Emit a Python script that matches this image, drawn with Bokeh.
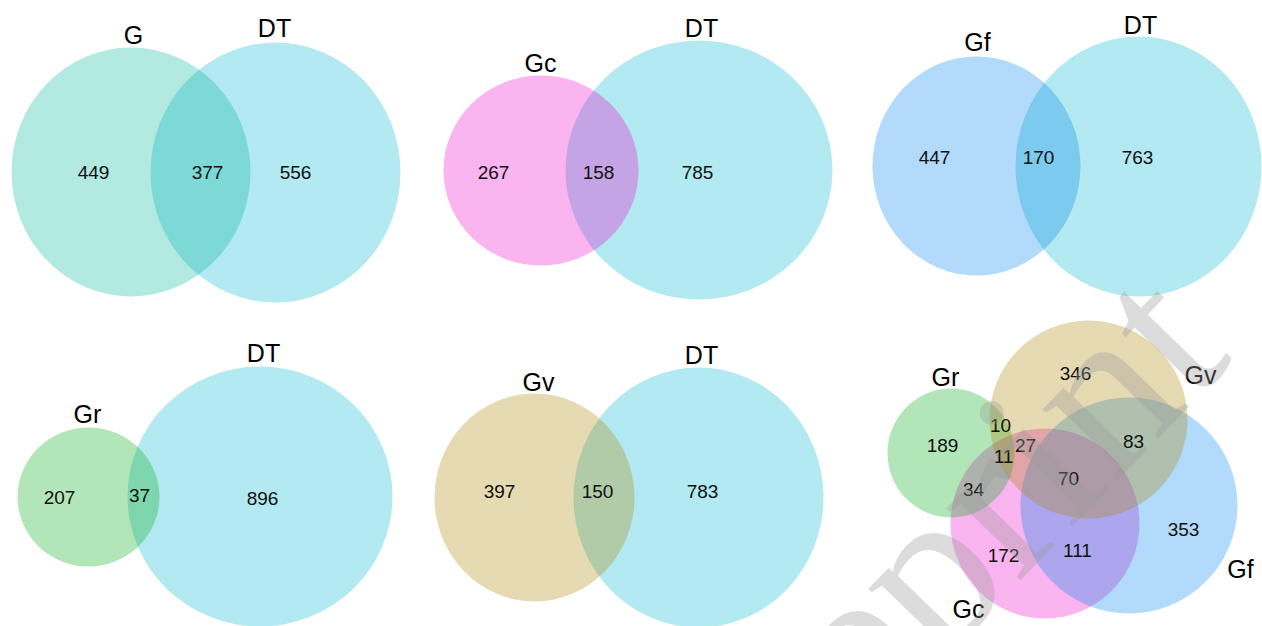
from bokeh.plotting import figure
from bokeh.models import Range1d
from bokeh.core.properties import value
from bokeh.embed import file_html
from bokeh.resources import INLINE

# ---------------- data (counts) ----------------
pair_names = ["G", "Gc", "Gf", "Gr", "Gv"]
pair_only = [449, 267, 447, 207, 397]        # only in the G-set
pair_shared = [377, 158, 170, 37, 150]       # shared with DT
dt_only = [556, 785, 763, 896, 783]          # only in DT

four_names = ["Gr", "Gv", "Gf", "Gc"]
four_regions = ["Gr", "Gv", "Gf", "Gc", "Gr&Gv", "Gr&Gv&Gc", "Gv&Gc",
                "Gr&Gc", "Gv&Gf", "Gv&Gf&Gc", "Gf&Gc"]
four_counts = [189, 346, 353, 172, 10, 11, 27, 34, 83, 70, 111]

# ---------------- colours ----------------
base_colors = {"DT": "#02b6cd", "G": "#00b69b", "Gc": "#ee05cd",
               "Gf": "#0084ee", "Gr": "#00ac16", "Gv": "#ac8400"}
ALPHA = 0.3

# ---------------- layout (pixel positions on the page) ----------------
pair_set_geom = [(130.5, 171.5, 239, 249), (540.5, 170, 195, 190),
                 (976, 165.5, 208, 219), (88, 496.5, 142, 139),
                 (534, 497, 200, 208)]
pair_dt_geom = [(275, 172, 250, 260), (698.5, 169.5, 267, 259),
                (1138, 166, 246, 260), (259.5, 496, 265, 260),
                (698, 497, 250, 260)]
pair_label_pos = [(133, 34), (540, 62), (977, 41), (87, 413), (538, 381)]
dt_label_pos = [(274, 27), (701, 27), (1140, 24), (263, 352), (701, 354)]
pair_num_pos = [[(93, 172), (207, 172), (295, 172)],
                [(493, 172), (598, 172), (697, 172)],
                [(934, 157), (1038, 157), (1137, 157)],
                [(59, 497), (139, 495), (262, 498)],
                [(499, 491), (597, 491), (702, 491)]]

four_order = ["Gc", "Gf", "Gr", "Gv"]
four_geom = {"Gr": (950.5, 452.5, 127, 129), "Gv": (1088, 419, 198, 198),
             "Gf": (1128.5, 505, 217, 216), "Gc": (1044.5, 523, 189, 190)}
four_label_pos = {"Gr": (945, 376), "Gv": (1200, 374),
                  "Gf": (1240, 568), "Gc": (968, 608)}
four_num_pos = [(942, 445), (1075, 373), (1183, 529), (1003, 555),
                (1000, 425), (1003, 456), (1025, 445), (973, 489),
                (1133, 441), (1068, 478), (1077, 550)]

W, H = 1262, 626
p = figure(width=W, height=H, output_backend="svg", toolbar_location=None,
           x_range=Range1d(0, W), y_range=Range1d(H, 0),
           min_border=0)
p.axis.visible = False
p.grid.visible = False
p.outline_line_color = None
p.background_fill_color = "white"
p.border_fill_color = "white"

FONT = value("Liberation Sans")

def ell(cx, cy, w, h, color):
    p.ellipse(x=[cx], y=[cy], width=[w], height=[h],
              width_units="screen", height_units="screen",
              fill_color=color, fill_alpha=ALPHA, line_color=None)

for i, name in enumerate(pair_names):
    ell(*pair_dt_geom[i], base_colors["DT"])
    ell(*pair_set_geom[i], base_colors[name])

for name in four_order:
    ell(*four_geom[name], base_colors[name])

nx, ny, nt = [], [], []
for i in range(len(pair_names)):
    vals = [pair_only[i], pair_shared[i], dt_only[i]]
    for (x, y), v in zip(pair_num_pos[i], vals):
        nx.append(x); ny.append(y); nt.append(str(v))
for (x, y), v in zip(four_num_pos, four_counts):
    nx.append(x); ny.append(y); nt.append(str(v))
p.text(x=nx, y=ny, text=nt, text_font=FONT, text_font_size="19px",
       text_align="center", text_baseline="middle", text_color="#111111")

lx, ly, lt = [], [], []
for i, name in enumerate(pair_names):
    lx += [pair_label_pos[i][0], dt_label_pos[i][0]]
    ly += [pair_label_pos[i][1], dt_label_pos[i][1]]
    lt += [name, "DT"]
for name in four_names:
    lx.append(four_label_pos[name][0]); ly.append(four_label_pos[name][1])
    lt.append(name)
p.text(x=lx, y=ly, text=lt, text_font=FONT, text_font_size="25px",
       text_align="center", text_baseline="middle", text_color="#000000")

# watermark
p.text(x=[1180], y=[306], text=["preprint"], angle=0.80,
       text_font=value("Liberation Serif"), text_font_size="225px",
       text_align="right", text_baseline="middle",
       text_color="#9a9a9a", text_alpha=0.35)

open("out.html", "w").write(file_html(p, INLINE))
